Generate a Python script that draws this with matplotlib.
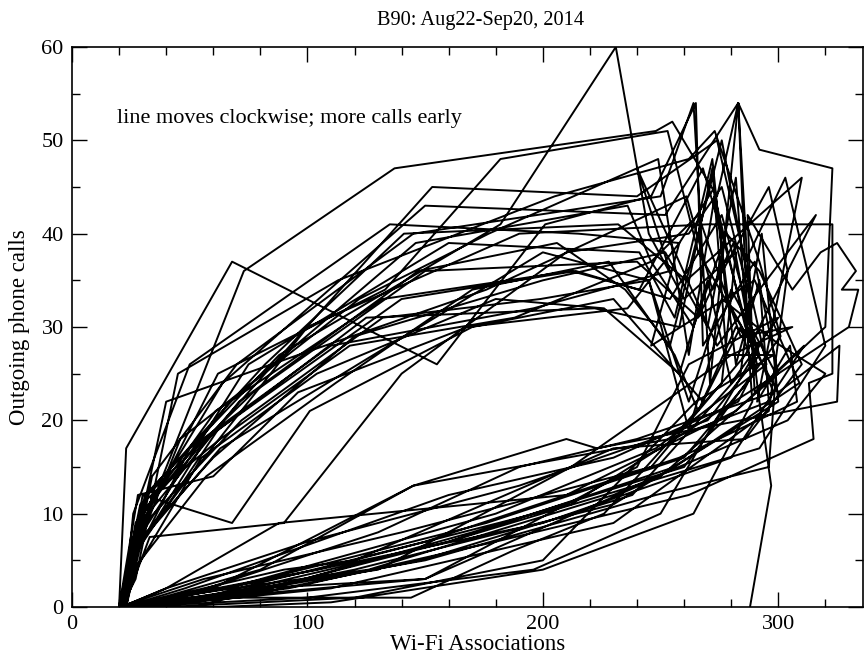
import matplotlib.pyplot as plt
from matplotlib.ticker import MultipleLocator

plt.rcParams['font.family'] = ['Liberation Serif', 'DejaVu Serif']

# hourly trace, one line per day (Wi-Fi associations, outgoing calls)
wifi = [
    20, 23, 68, 155, 201, 246, 265, 268, 290, 300, 250, 150, 60, 22,
    21, 26, 73, 137, 248, 255, 274, 283, 287, 298, 240, 190, 130, 45, 20,
    22, 31, 88, 182, 231, 245, 260, 282, 276, 226, 187, 144, 50, 30,
    21, 27, 45, 113, 205, 262, 273, 292, 301, 260, 170, 70, 20,
    23, 34, 70, 145, 250, 264, 271, 283, 290, 311, 280, 200, 85, 24,
    20, 29, 82, 153, 240, 274, 286, 303, 320, 292, 160, 52, 21,
    22, 26, 50, 100, 190, 270, 287, 323, 323, 313, 315, 262, 180, 92, 23,
    21, 24, 46, 122, 177, 249, 262, 273, 286, 293, 300, 230, 120, 40, 22,
    20, 28, 64, 150, 252, 283, 292, 323, 320, 282, 210, 88, 40, 21,
    22, 26, 50, 135, 215, 258, 273, 282, 292, 296, 254, 145, 60, 23,
    20, 33, 67, 146, 236, 246, 266, 284, 306, 280, 212, 130, 50, 20,
    21, 30, 75, 160, 241, 256, 272, 278, 300, 326, 325, 223, 210, 145, 80, 24,
    22, 26, 62, 133, 182, 253, 266, 289, 287, 306, 318, 325, 333, 327, 334, 330, 300, 212, 104, 22,
    20, 29, 71, 147, 206, 235, 254, 276, 288, 295, 248, 180, 66, 22,
    21, 25, 57, 125, 222, 258, 272, 278, 298, 265, 200, 120, 40, 21,
    23, 35, 82, 141, 232, 261, 310, 291, 305, 308, 258, 150, 55, 20,
    21, 27, 61, 132, 212, 241, 268, 276, 291, 283, 230, 160, 48, 22,
    20, 24, 40, 96, 176, 236, 261, 272, 296, 304, 296, 230, 110, 30,
    22, 32, 77, 150, 240, 266, 281, 286, 292, 270, 190, 100, 40, 21,
    20, 28, 60, 120, 200, 252, 270, 282, 289, 264, 200, 110, 62, 22,
    21, 26, 50, 110, 196, 254, 240, 274, 316, 286, 246, 140, 56, 20,
    22, 33, 90, 140, 210, 262, 276, 288, 284, 238, 148, 70, 21,
    20, 29, 63, 118, 188, 246, 264, 278, 292, 310, 286, 230, 120, 90, 22,
    21, 27, 55, 104, 180, 226, 258, 270, 280, 300, 262, 240, 150, 79, 23,
    20, 28, 60, 96, 168, 236, 258, 246, 290, 309, 256, 160, 58, 20,
    22, 31, 72, 132, 199, 245, 262, 276, 301, 320, 304, 230, 126, 40, 21,
    20, 26, 57, 112, 170, 228, 256, 266, 282, 292, 250, 196, 100, 24,
    21, 29, 63, 128, 200, 245, 262, 280, 299, 296, 248, 150, 60, 22,
    22, 30, 68, 101, 170, 230, 268, 284, 290, 260, 176, 82, 20,
    20, 25, 62, 140, 214, 254, 276, 287, 292, 297, 288,
]
calls = [
    0, 17, 37, 26, 41, 44, 54, 28, 37, 25, 14, 3, 1, 0,
    0, 6, 36, 47, 51, 52, 44, 54, 30, 23, 18, 15, 8, 1, 0,
    1, 12, 27, 41, 60, 40, 33, 38, 24, 10, 6, 1, 1, 0,
    0, 3, 25, 35, 44, 48, 51, 37, 29, 15, 8, 1, 0,
    0, 14, 26, 40, 44, 54, 24, 54, 23, 28, 16, 9, 3, 0,
    0, 10, 25, 45, 44, 50, 37, 46, 28, 17, 7, 0, 0,
    0, 6, 14, 30, 40, 41, 41, 41, 25, 24, 18, 12, 7, 2, 0,
    0, 4, 18, 33, 40, 48, 27, 44, 30, 40, 22, 11, 4, 0, 0,
    0, 9, 24, 43, 42, 54, 49, 47, 30, 21, 12, 9, 2, 0,
    0, 10, 26, 41, 40, 39, 45, 26, 35, 22, 18, 13, 2, 0,
    0, 11, 22, 39, 43, 37, 42, 29, 30, 27, 15, 4, 1, 0,
    0, 8, 26, 39, 38, 31, 48, 33, 23, 28, 22, 17, 18, 13, 4, 0,
    0, 7, 25, 34, 48, 51, 38, 28, 42, 34, 38, 39, 36, 34, 34, 30, 25, 11, 4, 0,
    0, 9, 22, 36, 39, 34, 28, 50, 34, 26, 17, 10, 2, 0,
    0, 5, 18, 31, 32, 30, 47, 27, 27, 22, 5, 1, 0, 0,
    0, 13, 26, 40, 41, 35, 46, 22, 28, 22, 16, 7, 1, 0,
    0, 9, 21, 33, 36, 34, 47, 40, 26, 22, 16, 12, 2, 0,
    0, 3, 22, 27, 34, 41, 44, 34, 45, 36, 21, 9, 2, 0,
    0, 12, 23, 36, 37, 31, 39, 32, 27, 20, 13, 7, 2, 0,
    0, 7, 16, 29, 35, 38, 30, 46, 22, 10, 4, 0.5, 0, 0,
    0, 5, 17, 28, 32, 36, 47, 28, 42, 27, 15, 8, 3, 0,
    0, 7.5, 9, 25, 38, 40, 45, 33, 25, 12, 5, 1, 0,
    0, 11, 18, 28, 31, 37, 30, 40, 36, 26, 18, 17, 5, 4, 0,
    0, 4, 16, 25, 33, 32, 25, 35, 24, 31, 26, 15, 3, 2, 0,
    0, 12, 14, 23, 30, 32, 39, 28, 35, 24, 15, 7, 1, 0,
    0, 9, 20, 31, 33, 35, 22, 33, 28, 25, 20, 12, 4, 1, 0,
    0, 4, 14, 24, 34, 37, 27, 21, 30, 28, 10, 4, 1, 0,
    0, 7, 17, 27, 38, 35, 19, 34, 25, 15, 12, 5, 1, 0,
    0, 12, 9, 21, 30, 33, 22, 30, 25, 16, 9, 3, 0,
    0, 5, 19, 33, 36, 33, 42, 32, 22, 13, 0,
]

fig = plt.figure(figsize=(8.64, 6.57), dpi=100)
ax = fig.add_axes([72 / 864, 50 / 657, 791 / 864, 560 / 657])
ax.plot(wifi, calls, color='black', lw=1.4)

ax.set_xlim(0, 336)
ax.set_ylim(0, 60)
ax.xaxis.set_major_locator(MultipleLocator(100))
ax.xaxis.set_minor_locator(MultipleLocator(20))
ax.yaxis.set_major_locator(MultipleLocator(10))
ax.yaxis.set_minor_locator(MultipleLocator(5))
ax.tick_params(which='both', direction='in', top=True, right=True, width=1, labelsize=16)
ax.tick_params(which='major', length=11, pad=6)
ax.tick_params(which='minor', length=6)
for s in ax.spines.values():
    s.set_linewidth(1.2)

ax.set_xlabel('Wi-Fi Associations', fontsize=16.5, labelpad=0)
ax.xaxis.set_label_coords(0.513, -0.048)
ax.set_ylabel('Outgoing phone calls', fontsize=16.5, labelpad=8)
fig.text(481 / 864, 1 - 20 / 657, 'B90: Aug22-Sep20, 2014', fontsize=14.7, ha='center', va='center')
ax.text(19, 52.3, 'line moves clockwise; more calls early', fontsize=16, va='center')

fig.savefig('out.png', dpi=100)
